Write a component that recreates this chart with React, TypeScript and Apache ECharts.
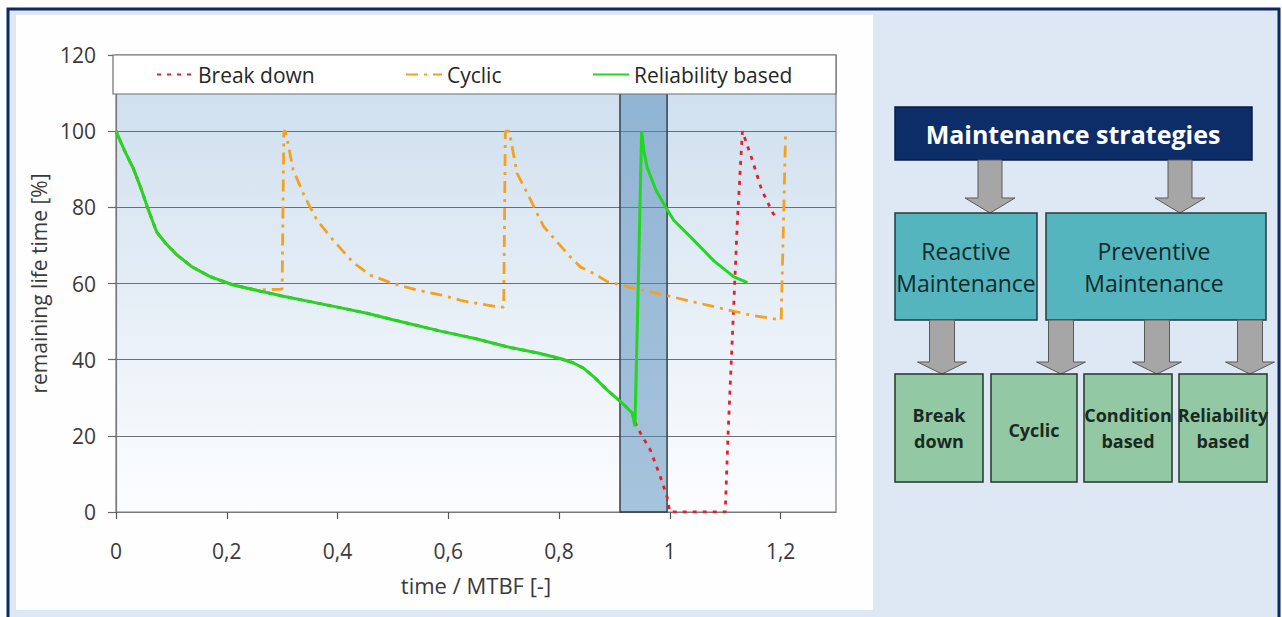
import React, { useEffect, useRef } from "react";
import * as echarts from "echarts";

const seriesNames = ["Break down", "Cyclic", "Reliability based"];
const xTickValues = [0, 0.2, 0.4, 0.6, 0.8, 1, 1.2];
const yMax = 120;
const yInterval = 20;

const commonStart: [number, number][] = [
  [0, 100], [0.015, 95], [0.031, 90.3], [0.045, 85], [0.058, 79.5], [0.0735, 73.5],
  [0.09, 70.5], [0.11, 67.5], [0.137, 64.4], [0.17, 61.8], [0.212, 59.6],
];

const reliabilityData: [number, number][] = [
  ...commonStart,
  [0.3, 56.7], [0.4, 53.8], [0.453, 52.2], [0.5, 50.5], [0.586, 47.5], [0.65, 45.5],
  [0.706, 43.4], [0.76, 41.8], [0.802, 40.3], [0.825, 39.2], [0.844, 37.8], [0.865, 35.2],
  [0.887, 32], [0.914, 28.6], [0.932, 26], [0.937, 22.5], [0.943, 60], [0.949, 100],
  [0.953, 95], [0.959, 90.5], [0.975, 84.5], [0.995, 79.4], [1.007, 76.6], [1.043, 71.4],
  [1.079, 66], [1.115, 61.8], [1.14, 60.2],
];

const breakdownData: [number, number][] = [
  ...commonStart,
  [0.3, 56.7], [0.4, 53.8], [0.453, 52.2], [0.5, 50.5], [0.586, 47.5], [0.65, 45.5],
  [0.706, 43.4], [0.76, 41.8], [0.802, 40.3], [0.825, 39.2], [0.844, 37.8], [0.865, 35.2],
  [0.887, 32], [0.914, 28.6], [0.932, 26], [0.94, 22.5], [0.947, 20.7], [0.965, 16.2],
  [0.983, 9.2], [0.995, 4], [1.0, 0], [1.1, 0], [1.105, 20], [1.115, 53], [1.122, 76.6],
  [1.131, 100], [1.148, 92.8], [1.166, 84.5], [1.186, 78.5], [1.195, 77],
];

const cyclicData: [number, number][] = [
  ...commonStart,
  [0.25, 58.3], [0.3, 58.5], [0.303, 100], [0.306, 100], [0.32, 89.8], [0.34, 83],
  [0.363, 76.6], [0.392, 71.4], [0.429, 65.4], [0.459, 62.2], [0.5, 60], [0.543, 58.3],
  [0.586, 57], [0.622, 55.6], [0.658, 54.6], [0.694, 53.8], [0.7, 53.8], [0.703, 100],
  [0.71, 100], [0.724, 89], [0.745, 83], [0.76, 78.5], [0.772, 75], [0.82, 67],
  [0.839, 64.3], [0.862, 62.7], [0.887, 60.5], [0.934, 58.8], [0.99, 57], [1.068, 54.3],
  [1.146, 51.7], [1.176, 51], [1.201, 50.4], [1.209, 99.5],
];

const bandRange = [0.91, 0.995];
const bandTop = 110.3;

const topBoxLabel = "Maintenance strategies";
const middleBoxLabels = [["Reactive", "Maintenance"], ["Preventive", "Maintenance"]];
const bottomBoxLabels = [["Break", "down"], ["Cyclic"], ["Condition", "based"], ["Reliability", "based"]];

const FONT = '"Open Sans", "Noto Sans", sans-serif';

function arrow(cx: number, top: number, headStart: number, tip: number, shaftHalf: number, headHalf: number) {
  return {
    type: "polygon",
    z: 10,
    shape: {
      points: [
        [cx - shaftHalf, top], [cx + shaftHalf, top], [cx + shaftHalf, headStart],
        [cx + headHalf, headStart], [cx, tip], [cx - headHalf, headStart], [cx - shaftHalf, headStart],
      ],
    },
    style: { fill: "#a6a6a6", stroke: "#5a5a5a", lineWidth: 1 },
  };
}

function label(text: string, x: number, y: number, font: string, fill: string) {
  return {
    type: "text",
    z: 12,
    x,
    y,
    style: {
      text, font, fill,
      textAlign: "center", textVerticalAlign: "middle",
      align: "center", verticalAlign: "middle",
    },
  };
}

function box(x: number, y: number, w: number, h: number, fill: string, stroke: string) {
  return {
    type: "rect",
    z: 10,
    shape: { x, y, width: w, height: h },
    style: { fill, stroke, lineWidth: 1.5 },
  };
}

export default function App() {
  const ref = useRef<HTMLDivElement>(null);
  useEffect(() => {
    if (!ref.current) return;
    const chart = echarts.init(ref.current, undefined, { renderer: "svg" });

    const midBoxes = [
      { x: 895, w: 142 },
      { x: 1046, w: 220 },
    ];
    const botBoxes = [
      { x: 895, w: 88 },
      { x: 991, w: 86 },
      { x: 1084, w: 88 },
      { x: 1179, w: 88 },
    ];

    const graphics: any[] = [
      { type: "rect", z: -10, shape: { x: 0, y: 0, width: 1282, height: 617 }, style: { fill: "#ffffff" } },
      { type: "rect", z: -9, shape: { x: 8, y: 9, width: 1271, height: 620 }, style: { fill: "#dde8f4", stroke: "#0b2a63", lineWidth: 3 } },
      { type: "rect", z: -8, shape: { x: 16, y: 15, width: 857, height: 595 }, style: { fill: "#fefefe" } },
      // legend box
      { type: "rect", z: 3, shape: { x: 113, y: 55, width: 723, height: 39 }, style: { fill: "#ffffff", stroke: "#6f6f6f", lineWidth: 1.2 } },
      // diagram
      box(895, 107, 357, 53, "#0d2d68", "#081d45"),
      label(topBoxLabel, 1073, 134, `bold 25px ${FONT}`, "#ffffff"),
      arrow(990, 160, 198, 213, 12, 25),
      arrow(1180, 160, 198, 213, 12, 25),
    ];
    midBoxes.forEach((b, i) => {
      graphics.push(box(b.x, 213, b.w, 107, "#55b5bf", "#243a3c"));
      const cx = b.x + b.w / 2 - (i === 1 ? 2 : 0);
      graphics.push(label(middleBoxLabels[i][0], cx, 251, `23px ${FONT}`, "#102a2c"));
      graphics.push(label(middleBoxLabels[i][1], cx, 283, `23px ${FONT}`, "#102a2c"));
    });
    [942, 1061, 1157, 1250].forEach((cx) => graphics.push(arrow(cx, 320, 362, 374, 12.5, 24.5)));
    botBoxes.forEach((b, i) => {
      graphics.push(box(b.x, 374, b.w, 108, "#93c8a4", "#26352b"));
      const cx = b.x + b.w / 2;
      const lines = bottomBoxLabels[i];
      if (lines.length === 1) {
        graphics.push(label(lines[0], cx, 430, `bold 18px ${FONT}`, "#1a2a1e"));
      } else {
        graphics.push(label(lines[0], cx, 415, `bold 18px ${FONT}`, "#1a2a1e"));
        graphics.push(label(lines[1], cx, 441, `bold 18px ${FONT}`, "#1a2a1e"));
      }
    });

    const legendCommon = {
      top: 59,
      itemWidth: 36,
      itemHeight: 14,
      z: 5,
      itemStyle: { opacity: 0 },
      textStyle: { fontSize: 21, color: "#262626", fontFamily: FONT },
      selectedMode: false,
    };

    chart.setOption({
      animation: false,
      textStyle: { fontFamily: FONT },
      grid: {
        left: 116,
        right: 446,
        top: 55,
        bottom: 105,
        show: true,
        borderColor: "#7a7a7a",
        borderWidth: 1.2,
        backgroundColor: new echarts.graphic.LinearGradient(0, 0, 0, 1, [
          { offset: 0, color: "#cbdded" },
          { offset: 0.5, color: "#e4edf6" },
          { offset: 1, color: "#fcfdff" },
        ]),
      },
      legend: [
        { ...legendCommon, left: 151, data: [seriesNames[0]] },
        { ...legendCommon, left: 400, data: [seriesNames[1]] },
        { ...legendCommon, left: 587, data: [seriesNames[2]] },
      ],
      xAxis: {
        type: "value",
        min: 0,
        max: 1.3,
        name: "time / MTBF [-]",
        nameLocation: "middle",
        nameGap: 62,
        nameTextStyle: { fontSize: 22, color: "#3a3a3a", fontFamily: FONT },
        axisLine: { show: true, onZero: false, lineStyle: { color: "#7a7a7a", width: 1.2 } },
        axisTick: { show: true, length: 7, customValues: xTickValues, lineStyle: { color: "#555555", width: 1.2 } },
        axisLabel: {
          customValues: xTickValues,
          margin: 28,
          fontSize: 21,
          color: "#3a3a3a",
          fontFamily: FONT,
          formatter: (v: number) => String(Math.round(v * 10) / 10).replace(".", ","),
        },
        splitLine: { show: false },
      },
      yAxis: {
        type: "value",
        min: 0,
        max: yMax,
        interval: yInterval,
        name: "remaining life time [%]",
        nameLocation: "middle",
        nameGap: 55,
        nameTextStyle: { fontSize: 21, color: "#3a3a3a", fontFamily: FONT },
        axisLine: { show: true, lineStyle: { color: "#7a7a7a", width: 1.2 } },
        axisTick: { show: true, length: 8, lineStyle: { color: "#6a6a6a", width: 1.2 } },
        axisLabel: { margin: 20, fontSize: 21, color: "#3a3a3a", fontFamily: FONT },
        splitLine: { show: true, lineStyle: { color: "#6f6f6f", width: 1.2 } },
      },
      graphic: { elements: graphics },
      series: [
        {
          name: seriesNames[0],
          type: "line",
          data: breakdownData,
          symbol: "none",
          showSymbol: false,
          z: 3,
          lineStyle: { color: "#e4202c", width: 2.8, type: [4, 6] },
          itemStyle: { color: "#e4202c" },
        },
        {
          name: seriesNames[1],
          type: "line",
          data: cyclicData,
          symbol: "none",
          showSymbol: false,
          z: 3,
          lineStyle: { color: "#f4a11e", width: 2.8, type: [12, 6, 3, 6] },
          itemStyle: { color: "#f4a11e" },
        },
        {
          name: seriesNames[2],
          type: "line",
          data: reliabilityData,
          symbol: "none",
          showSymbol: false,
          z: 4,
          lineStyle: { color: "#22d622", width: 3 },
          itemStyle: { color: "#22d622" },
          markArea: {
            silent: true,
            z: 1,
            itemStyle: { color: "rgba(81,137,185,0.5)", borderColor: "#34404c", borderWidth: 1.5 },
            data: [[{ xAxis: bandRange[0], yAxis: 0 }, { xAxis: bandRange[1], yAxis: bandTop }]],
          },
        },
      ],
    });
    return () => chart.dispose();
  }, []);

  return <div ref={ref} style={{ position: "absolute", left: 0, top: 0, width: 1282, height: 617 }} />;
}
